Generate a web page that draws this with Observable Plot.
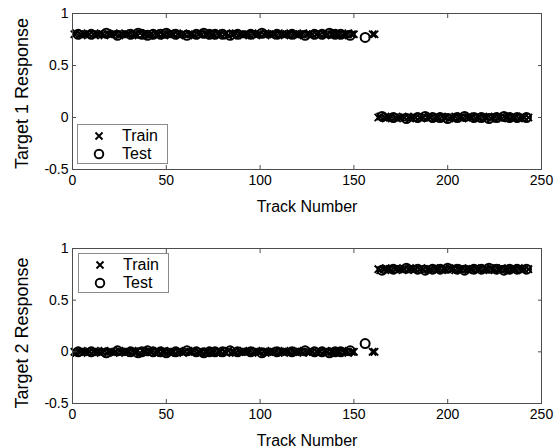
<!DOCTYPE html>
<html><head><meta charset="utf-8">
<script src="https://cdn.jsdelivr.net/npm/d3@7"></script>
<script src="https://cdn.jsdelivr.net/npm/@observablehq/plot@0.6"></script>
<style>
body{margin:0;background:#fff;font-family:"Liberation Sans",Arial,sans-serif;}
#wrap{position:relative;width:557px;height:448px;overflow:hidden;}
#wrap svg{display:block;}
.legend{position:absolute;background:#fff;border:1px solid #8a8a8a;box-sizing:border-box;font-size:16px;color:#000;}
.legend .row{position:absolute;left:0;height:18px;line-height:18px;}
.legend .row svg{position:absolute;left:15px;top:2px;}
.legend .row span{position:absolute;left:44px;top:0;white-space:nowrap;}
</style></head><body><div id="wrap"></div>
<script>
// ---- data ----
const trainTracks = [
  1,2,4,5,6,7,8,9,11,12,
  13,14,15,16,17,19,20,21,22,23,
  25,26,27,28,29,30,32,33,34,36,
  38,39,41,42,44,45,46,48,49,51,
  52,53,54,56,57,58,59,60,62,63,
  64,65,67,68,69,71,72,74,75,77,
  78,79,81,82,83,85,86,87,89,90,
  91,92,93,94,96,97,98,99,100,102,
  103,104,105,106,107,108,110,111,112,113,
  114,115,116,118,119,120,121,122,123,125,
  126,127,128,130,131,132,134,135,136,138,
  139,141,142,144,145,146,147,149,150,160,
  161,
  163,164,166,167,168,169,170,172,173,174,
  175,176,177,179,180,181,182,183,185,186,
  187,189,190,191,193,194,195,197,198,199,
  201,202,203,204,206,207,208,210,211,212,
  213,215,216,217,219,220,221,223,224,225,
  227,228,229,231,232,234,235,236,238,239,
  240,241,243
];
const trainT1 = [
  .80,.81,.80,.79,.80,.80,.81,.80,.80,.79,
  .80,.80,.81,.80,.79,.80,.80,.80,.81,.80,
  .79,.80,.80,.81,.80,.80,.79,.80,.80,.81,
  .80,.80,.79,.80,.81,.80,.80,.80,.79,.80,
  .81,.80,.80,.80,.79,.80,.81,.80,.80,.80,
  .80,.79,.80,.81,.80,.80,.80,.79,.80,.81,
  .80,.80,.80,.81,.79,.80,.80,.81,.80,.80,
  .79,.80,.80,.80,.81,.80,.79,.80,.80,.80,
  .81,.80,.80,.79,.80,.80,.81,.80,.80,.79,
  .80,.80,.81,.80,.80,.79,.80,.80,.81,.80,
  .80,.79,.80,.80,.81,.80,.80,.79,.80,.80,
  .81,.80,.80,.79,.80,.80,.81,.80,.80,.80,
  .80,
  .00,.01,.00,-.01,.00,.00,.01,.00,-.01,.00,
  .00,.01,.00,.00,-.01,.00,.01,.00,.00,-.01,
  .00,.00,.01,.00,-.01,.00,.00,.01,.00,.00,
  -.01,.00,.00,.01,.00,.00,-.01,.00,.01,.00,
  .00,-.01,.00,.00,.01,.00,.00,-.01,.00,.01,
  .00,.00,-.01,.00,.01,.00,.00,.00,-.01,.00,
  .01,.00,.00
];
const trainT2 = [
  .00,-.01,.00,.01,.00,.00,-.01,.00,.00,.01,
  .00,.00,-.01,.00,.01,.00,.00,.00,-.01,.00,
  .01,.00,.00,-.01,.00,.00,.01,.00,.00,-.01,
  .00,.00,.01,.00,-.01,.00,.00,.00,.01,.00,
  -.01,.00,.00,.00,.01,.00,-.01,.00,.00,.00,
  .00,.01,.00,-.01,.00,.00,.00,.01,.00,-.01,
  .00,.00,.00,-.01,.01,.00,.00,-.01,.00,.00,
  .01,.00,.00,.00,-.01,.00,.01,.00,.00,.00,
  -.01,.00,.00,.01,.00,.00,-.01,.00,.00,.01,
  .00,.00,-.01,.00,.00,.01,.00,.00,-.01,.00,
  .00,.01,.00,.00,-.01,.00,.00,.01,.00,.00,
  -.01,.00,.00,.01,.00,.00,-.01,.00,.00,.00,
  .00,
  .80,.79,.80,.81,.80,.80,.79,.80,.81,.80,
  .80,.79,.80,.80,.81,.80,.79,.80,.80,.81,
  .80,.80,.79,.80,.81,.80,.80,.79,.80,.80,
  .81,.80,.80,.79,.80,.80,.81,.80,.79,.80,
  .80,.81,.80,.80,.79,.80,.80,.81,.80,.79,
  .80,.80,.81,.80,.79,.80,.80,.80,.81,.80,
  .79,.80,.80
];
const testTracks = [
  3,10,18,24,31,35,37,40,43,47,
  50,55,61,66,70,73,76,80,84,88,
  95,101,109,117,124,129,133,137,140,143,
  148,156,
  165,171,178,184,188,192,196,200,205,209,
  214,218,222,226,230,233,237,242
];
const testT1 = [
  .80,.80,.81,.79,.80,.81,.80,.79,.80,.80,
  .81,.80,.79,.80,.81,.80,.80,.80,.79,.80,
  .80,.81,.80,.80,.79,.80,.80,.81,.80,.80,
  .79,.77,
  .01,.00,-.01,.00,.01,.00,.00,-.01,.00,.01,
  .00,.00,-.01,.00,.01,.00,.00,.00
];
const testT2 = [
  .00,.00,-.01,.01,.00,-.01,.00,.01,.00,.00,
  -.01,.00,.01,.00,-.01,.00,.00,.00,.01,.00,
  .00,-.01,.00,.00,.01,.00,.00,-.01,.00,.00,
  .01,.08,
  .79,.80,.81,.80,.79,.80,.80,.81,.80,.79,
  .80,.80,.81,.80,.79,.80,.80,.80
];
const xTicks = [0,50,100,150,200,250];
const yTicks = [-0.5,0,0.5,1];
const seriesNames = ["Train","Test"];
const yLabels = ["Target 1 Response","Target 2 Response"];
const xLabel = "Track Number";

// ---- drawing ----
const FONT = '"Liberation Sans", Arial, Helvetica, sans-serif';
const FRAME = "#4d4d4d";

function panel(trainY, testY, yLabel, height, marginBottom, yLabelDy) {
  const train = trainTracks.map((t, i) => ({track: t, value: trainY[i]}));
  const test = testTracks.map((t, i) => ({track: t, value: testY[i]}));
  return Plot.plot({
    width: 557, height,
    marginLeft: 72, marginRight: 16, marginTop: 13, marginBottom,
    style: {fontFamily: FONT, fontSize: "14px", color: "#000", background: "#fff", overflow: "visible"},
    x: {domain: [0, 250]},
    y: {domain: [-0.5, 1]},
    marks: [
      Plot.dot(train, {x: "track", y: "value", symbol: "times", r: 3.4, stroke: "#000", strokeWidth: 1.9}),
      Plot.dot(test, {x: "track", y: "value", symbol: "circle", r: 4.5, fill: "none", stroke: "#000", strokeWidth: 2}),
      Plot.frame({stroke: FRAME, strokeWidth: 1}),
      Plot.axisX({ticks: xTicks, anchor: "bottom", tickSize: -4, tickPadding: 10, stroke: FRAME, fill: "#000",
                  tickFormat: d => String(d), label: null, fontSize: 14}),
      Plot.axisX({ticks: xTicks, anchor: "top", tickSize: -4, stroke: FRAME, tickFormat: () => "", label: null}),
      Plot.axisY({ticks: yTicks, anchor: "left", tickSize: -4, tickPadding: 8, stroke: FRAME, fill: "#000",
                  tickFormat: d => String(d), label: null, fontSize: 14}),
      Plot.axisY({ticks: yTicks, anchor: "right", tickSize: -4, stroke: FRAME, tickFormat: () => "", label: null}),
      Plot.text([xLabel], {frameAnchor: "bottom", dy: 42, lineAnchor: "bottom", fontSize: 16, fill: "#000"}),
      Plot.text([yLabel], {frameAnchor: "left", textAnchor: "middle", rotate: -90, dx: -50, dy: yLabelDy, fontSize: 18, fill: "#000"})
    ]
  });
}

function legend(left, top) {
  const div = document.createElement("div");
  div.className = "legend";
  Object.assign(div.style, {left: left + "px", top: top + "px", width: "91px", height: "40px"});
  const symbols = [
    '<svg width="12" height="14" viewBox="-6 -7 12 14"><path d="M-3.5,-3.5L3.5,3.5M-3.5,3.5L3.5,-3.5" stroke="#000" stroke-width="1.9" fill="none"/></svg>',
    '<svg width="12" height="14" viewBox="-6 -7 12 14"><circle r="4.3" stroke="#000" stroke-width="1.9" fill="none"/></svg>'
  ];
  seriesNames.forEach((name, i) => {
    const row = document.createElement("div");
    row.className = "row";
    row.style.top = (2 + i * 18) + "px";
    row.style.width = "89px";
    row.innerHTML = symbols[i] + "<span>" + name + "</span>";
    div.appendChild(row);
  });
  return div;
}

const wrap = document.getElementById("wrap");
wrap.appendChild(panel(trainT1, testT1, yLabels[0], 235, 66, 2));
wrap.appendChild(panel(trainT2, testT2, yLabels[1], 213, 45, 7));
wrap.appendChild(legend(77, 124));
wrap.appendChild(legend(78, 253));
</script></body></html>
